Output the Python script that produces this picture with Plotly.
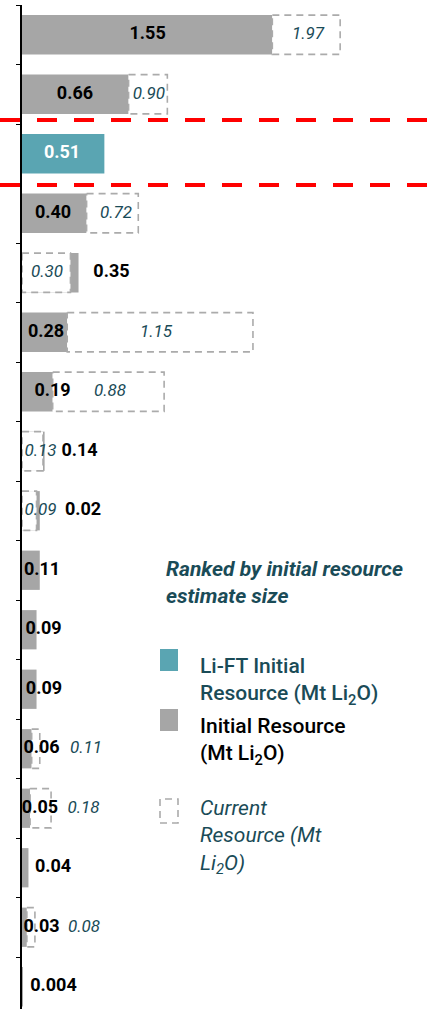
import plotly.graph_objects as go

# data, top row first (ranked by initial resource estimate size)
initial = [1.55, 0.66, 0.51, 0.40, 0.35, 0.28, 0.19, 0.14, 0.02,
           0.11, 0.09, 0.09, 0.06, 0.05, 0.04, 0.03, 0.004]
current = [1.97, 0.90, None, 0.72, 0.30, 1.15, 0.88, 0.13, 0.09,
           None, None, None, 0.11, 0.18, None, 0.08, None]
lift_row = 2
# quirks of the source chart: row 5 draws its current box stacked on the bar,
# row 8 draws its bar stacked after the current box
stack_current = [5]
stack_initial = [8]

# label anchors (x, in Mt) as placed in the source
init_label_x = [0.778, 0.328, 0.248, 0.192, 0.554, 0.149, 0.189, 0.356, 0.378,
                0.124, 0.133, 0.136, 0.121, 0.111, 0.192, 0.121, 0.195]
cur_label_x = [1.771, 0.786, None, 0.582, 0.155, 0.83, 0.545, 0.115, 0.115,
               None, None, None, 0.396, 0.381, None, 0.384, None]

TEAL = "#5aa5b2"
GREY = "#a6a6a6"
DARK = "#1a4b57"
BOX_LINE = "#ababab"
BAR_W = 0.66

W, H = 436, 1009
ML, MT = 22, 5
PW, PH = W - ML, H - MT
X_MAX = PW / 161.5


def px(x):
    return (x - ML) / PW


def py(y):
    return 1 - (y - MT) / PH


rows = list(range(len(initial)))

bar_len = []
for i, v in enumerate(initial):
    if i in stack_initial:
        bar_len.append(v + current[i])
    else:
        bar_len.append(v)

fig = go.Figure()
fig.add_trace(go.Bar(
    y=rows, x=bar_len, base=0, orientation="h", width=BAR_W,
    marker=dict(color=[TEAL if i == lift_row else GREY for i in rows], line=dict(width=0)),
    showlegend=False, hoverinfo="skip",
))

# dashed boxes for current resource
for i, c in enumerate(current):
    if c is None:
        continue
    if i in stack_current:
        x0, x1 = initial[i], initial[i] + c
    elif c < bar_len[i]:
        x0, x1 = 0, c
    else:
        x0, x1 = bar_len[i], c
    y0, y1 = i - BAR_W / 2, i + BAR_W / 2
    fig.add_trace(go.Scatter(
        x=[x0, x1, x1, x0, x0], y=[y0, y0, y1, y1, y0], mode="lines",
        fill="toself", fillcolor="white",
        line=dict(color=BOX_LINE, width=1.6, dash="7px,5px"),
        showlegend=False, hoverinfo="skip",
    ))

# value labels
fmt = lambda v: f"{v:.3f}" if v < 0.01 else f"{v:.2f}"
fig.add_trace(go.Scatter(
    x=init_label_x, y=rows, mode="text",
    text=[fmt(v) for v in initial],
    textfont=dict(family="Roboto", size=18, weight="bold",
                  color=["white" if i == lift_row else "black" for i in rows]),
    showlegend=False, hoverinfo="skip",
))
cur_rows = [i for i in rows if current[i] is not None]
fig.add_trace(go.Scatter(
    x=[cur_label_x[i] for i in cur_rows], y=cur_rows, mode="text",
    text=[fmt(current[i]) for i in cur_rows],
    textfont=dict(family="Roboto", size=17, style="italic", color=DARK),
    showlegend=False, hoverinfo="skip",
))

# red dashed separators around Li-FT
for yl in (1.433, 2.525):
    fig.add_shape(type="line", xref="paper", yref="y", x0=px(0), x1=1, y0=yl, y1=yl,
                  line=dict(color="#ff0000", width=4, dash="20px,17px"), layer="above")

# legend
fig.add_annotation(xref="paper", yref="paper", x=px(164), y=py(582), xanchor="left", yanchor="middle",
                   text="<b><i>Ranked by initial resource<br>estimate size</i></b>", align="left",
                   showarrow=False, font=dict(family="Roboto", size=21, color=DARK))
fig.add_shape(type="rect", xref="paper", yref="paper", x0=px(160), x1=px(178), y0=py(671), y1=py(649),
              fillcolor=TEAL, line=dict(width=0))
fig.add_shape(type="rect", xref="paper", yref="paper", x0=px(160), x1=px(178), y0=py(731), y1=py(709),
              fillcolor=GREY, line=dict(width=0))
fig.add_shape(type="rect", xref="paper", yref="paper", x0=px(160), x1=px(178), y0=py(823), y1=py(799),
              fillcolor="white", line=dict(color=BOX_LINE, width=1.6, dash="7px,5px"))
fig.add_annotation(xref="paper", yref="paper", x=px(198), y=py(681), xanchor="left", yanchor="middle",
                   text="Li-FT Initial<br>Resource (Mt Li<sub>2</sub>O)", align="left",
                   showarrow=False, font=dict(family="Roboto", size=21, weight=500, color=DARK))
fig.add_annotation(xref="paper", yref="paper", x=px(198), y=py(741), xanchor="left", yanchor="middle",
                   text="Initial Resource<br>(Mt Li<sub>2</sub>O)", align="left",
                   showarrow=False, font=dict(family="Roboto", size=21, weight=500, color="black"))
fig.add_annotation(xref="paper", yref="paper", x=px(198), y=py(837), xanchor="left", yanchor="middle",
                   text="<i>Current<br>Resource (Mt<br>Li<sub>2</sub>O)</i>", align="left",
                   showarrow=False, font=dict(family="Roboto", size=21, color=DARK))

fig.update_layout(
    width=W, height=H,
    margin=dict(l=ML, r=0, t=MT, b=0),
    paper_bgcolor="white", plot_bgcolor="white",
    barmode="overlay",
    xaxis=dict(range=[0, X_MAX], visible=False, fixedrange=True),
    yaxis=dict(range=[16.374, -0.5], showgrid=False, zeroline=False,
               showticklabels=False, showline=True, linecolor="black", linewidth=1.5,
               ticks="outside", ticklen=4, tickwidth=1.2, tickcolor="black",
               tickmode="array", tickvals=[i - 0.5 for i in range(len(initial) + 1)]),
    showlegend=False,
)

# the page's default body margin would shift the chart by 8px
fig.write_html("out.html", config={"displayModeBar": False},
               post_script="document.body.style.margin='0';document.body.style.overflow='hidden';")
